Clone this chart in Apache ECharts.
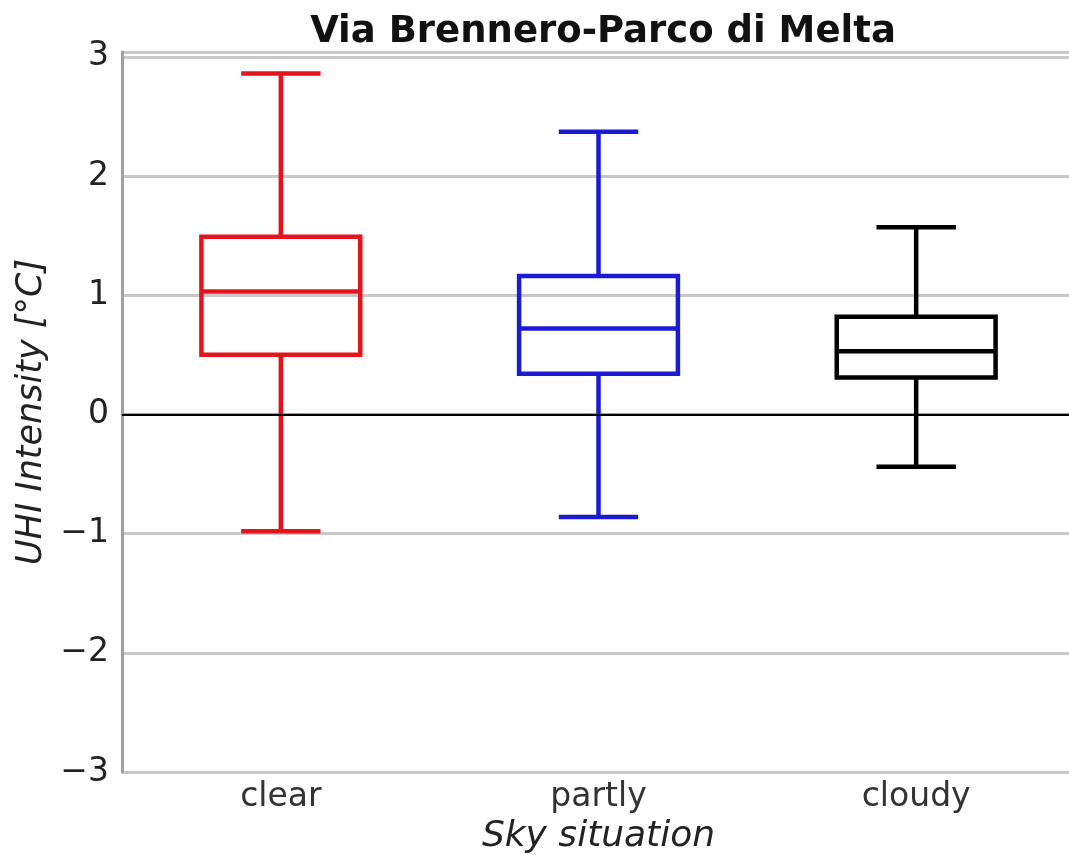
<!DOCTYPE html>
<html>
<head>
<meta charset="utf-8">
<script src="https://cdn.jsdelivr.net/npm/echarts@6/dist/echarts.min.js"></script>
<style>
  html, body { margin: 0; padding: 0; background: #fff; }
  #chart { width: 1069px; height: 855px; }
</style>
</head>
<body>
<div id="chart"></div>
<script>
// sky situation categories
const categories = ["clear", "partly", "cloudy"];
// box plot statistics (°C)
const whiskerLow = [-0.98, -0.86, -0.44];
const q1 = [0.50, 0.34, 0.31];
const median = [1.03, 0.72, 0.53];
const q3 = [1.49, 1.16, 0.82];
const whiskerHigh = [2.86, 2.37, 1.57];
const yTicks = [-3, -2, -1, 0, 1, 2, 3];

const boxColors = ["#e3141b", "#1b1bd6", "#000000"];

const boxData = categories.map((c, i) => [i, whiskerLow[i], q1[i], median[i], q3[i], whiskerHigh[i]]);

function renderBox(params, api) {
  const x = api.value(0);
  const color = boxColors[params.dataIndex];
  const band = api.size([1, 0])[0];
  const boxW = band * 0.5;
  const capW = boxW * 0.5;
  const pLow = api.coord([x, api.value(1)]);
  const pQ1 = api.coord([x, api.value(2)]);
  const pMed = api.coord([x, api.value(3)]);
  const pQ3 = api.coord([x, api.value(4)]);
  const pHigh = api.coord([x, api.value(5)]);
  const cx = pMed[0];
  const style = { stroke: color, lineWidth: 4.5, fill: null };
  const line = (x1, y1, x2, y2) => ({ type: "line", shape: { x1, y1, x2, y2 }, style });
  return {
    type: "group",
    children: [
      { type: "rect", shape: { x: cx - boxW / 2, y: pQ3[1], width: boxW, height: pQ1[1] - pQ3[1] }, style },
      line(cx - boxW / 2, pMed[1], cx + boxW / 2, pMed[1]),
      line(cx, pQ3[1], cx, pHigh[1]),
      line(cx, pQ1[1], cx, pLow[1]),
      line(cx - capW / 2, pHigh[1], cx + capW / 2, pHigh[1]),
      line(cx - capW / 2, pLow[1], cx + capW / 2, pLow[1])
    ]
  };
}

const chart = echarts.init(document.getElementById("chart"));
chart.setOption({
  backgroundColor: "#ffffff",
  animation: false,
  title: {
    text: "Via Brennero-Parco di Melta",
    left: 598,
    textAlign: "center",
    top: 9,
    textStyle: { fontFamily: "DejaVu Sans", fontWeight: "bold", fontSize: 37, color: "#111" }
  },
  grid: {
    left: 122, top: 52, width: 953, bottom: 83,
    outerBoundsMode: "none", containLabel: false
  },
  xAxis: {
    type: "category",
    data: categories,
    name: "Sky situation",
    nameLocation: "middle",
    nameGap: 46,
    nameTextStyle: { fontFamily: "DejaVu Sans", fontStyle: "italic", fontSize: 36, color: "#222" },
    axisLine: { lineStyle: { color: "#a0a0a0", width: 3 } },
    axisTick: { show: false },
    axisLabel: { fontFamily: "DejaVu Sans", fontSize: 33, color: "#333", margin: 9 },
    splitLine: { show: false }
  },
  yAxis: {
    type: "value",
    min: -3,
    max: 3.04,
    interval: 1,
    name: "UHI Intensity [°C]",
    nameLocation: "middle",
    nameGap: 60,
    nameTextStyle: { fontFamily: "DejaVu Sans", fontStyle: "italic", fontSize: 35, color: "#222" },
    axisLine: { show: true, lineStyle: { color: "#a0a0a0", width: 3 } },
    axisTick: { show: false },
    axisLabel: {
      fontFamily: "DejaVu Sans", fontSize: 33, color: "#222", margin: 13,
      formatter: v => (yTicks.includes(v) ? (v < 0 ? "\u2212" + Math.abs(v) : String(v)) : "")
    },
    splitLine: { show: true, lineStyle: { color: "#c8c8c8", width: 3 } }
  },
  series: [{
    type: "custom",
    renderItem: renderBox,
    data: boxData,
    encode: { x: 0, y: [1, 2, 3, 4, 5] },
    z: 3,
    markLine: {
      silent: true,
      symbol: "none",
      label: { show: false },
      lineStyle: { color: "#000", width: 2, type: "solid" },
      data: [{ yAxis: 0 }]
    }
  }]
});
</script>
</body>
</html>
